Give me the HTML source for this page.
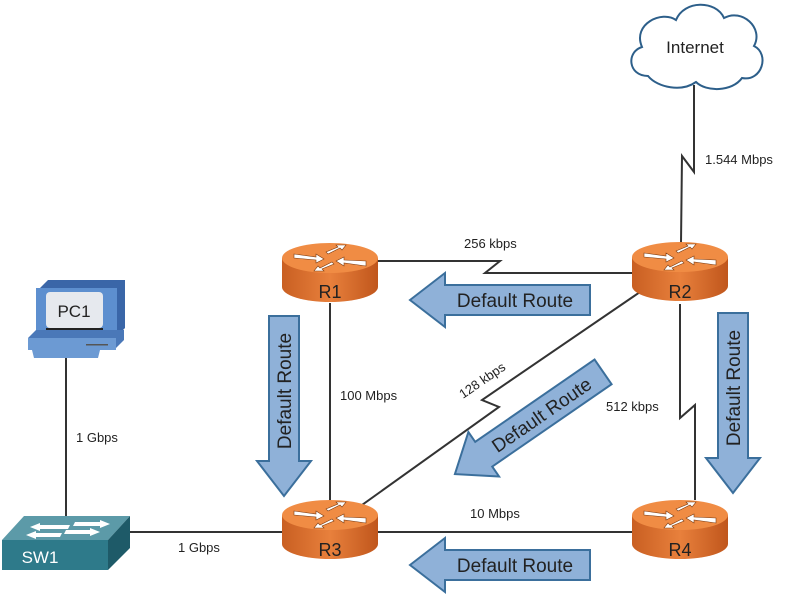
<!DOCTYPE html>
<html><head><style>
html,body{margin:0;padding:0;background:#fff;}
svg{display:block;font-family:"Liberation Sans",sans-serif;}
</style></head><body>
<svg width="791" height="602" viewBox="0 0 791 602">
<defs>
<linearGradient id="rb" x1="0" x2="1" y1="0" y2="0">
<stop offset="0" stop-color="#c95f22"/><stop offset="0.5" stop-color="#e8803c"/><stop offset="1" stop-color="#c0561c"/>
</linearGradient>
<g id="router">
<path d="M-48,0 L-48,29 A48,15 0 0 0 48,29 L48,0 Z" fill="url(#rb)"/>
<ellipse cx="0" cy="0" rx="48" ry="15" fill="#f08c44"/>
<g fill="#fff" stroke="#7a3a10" stroke-width="0.6">
<path d="M-36,-4 L-14,-1 L-14,-4 L-6,1 L-14,5 L-14,2 L-36,0 Z"/>
<path d="M36,4 L14,1 L14,4 L6,-1 L14,-5 L14,-2 L36,-1 Z" transform="translate(0,4)"/>
<path d="M-4,-6 L8,-11 L6,-13 L16,-13 L12,-8 L10,-10 L-2,-4 Z"/>
<path d="M4,6 L-8,11 L-6,13 L-16,13 L-12,8 L-10,10 L2,4 Z"/>
</g>
</g>
<g id="fat">
<path d="M-90,0 L-55,-27 L-55,-15 L90,-15 L90,15 L-55,15 L-55,27 Z" fill="#8fb1d8" stroke="#3b6f9c" stroke-width="2"/>
<text x="15" y="7" font-size="19" text-anchor="middle" fill="#222">Default Route</text>
</g>
</defs>

<g stroke="#333" stroke-width="2" fill="none">
<polyline points="694,85 694,172 682,156 681,243"/>
<polyline points="378,261 500,261 485,273 632,273"/>
<polyline points="680,304 680,418 695,405 695,500"/>
<polyline points="640,292 482,400 499,407 355,510"/>
<line x1="330" y1="303" x2="330" y2="505"/>
<line x1="378" y1="532" x2="632" y2="532"/>
<line x1="125" y1="532" x2="282" y2="532"/>
<line x1="66" y1="355" x2="66" y2="518"/>
</g>

<path d="M648,76 C628,76 626,52 642,47 C632,24 662,10 676,20 C684,0 716,0 724,18 C742,8 764,28 754,46 C770,54 762,82 742,78 C732,92 706,92 696,82 C682,92 658,88 648,76 Z" fill="#fff" stroke="#2d5f8a" stroke-width="2"/>
<text x="695" y="53" font-size="17" text-anchor="middle" fill="#222">Internet</text>

<use href="#router" x="330" y="258"/>
<use href="#router" x="680" y="257"/>
<use href="#router" x="330" y="515"/>
<use href="#router" x="680" y="515"/>
<g font-size="18" text-anchor="middle" fill="#222">
<text x="330" y="298">R1</text>
<text x="680" y="298">R2</text>
<text x="330" y="556">R3</text>
<text x="680" y="556">R4</text>
</g>

<path d="M40,288 L48,280 L125,280 L125,328 L117,336 Z" fill="#3a66a8"/>
<rect x="36" y="288" width="81" height="48" fill="#5d8fcf"/>
<rect x="46" y="292" width="57" height="36" rx="4" fill="#e6e9ee"/>
<text x="74" y="317" font-size="17" text-anchor="middle" fill="#222">PC1</text>
<rect x="46" y="328" width="57" height="3" fill="#222"/>
<path d="M28,338 L36,330 L124,330 L124,340 L116,348 Z" fill="#4a78b8"/>
<rect x="28" y="338" width="88" height="12" fill="#6c9ad3"/>
<rect x="86" y="344" width="22" height="1.5" fill="#555"/>
<path d="M32,350 L100,350 L98,358 L34,358 Z" fill="#6c9ad3"/>

<path d="M2,540 L24,516 L130,516 L108,540 Z" fill="#5c9aa8"/>
<path d="M108,540 L130,516 L130,548 L108,570 Z" fill="#1e5a68"/>
<rect x="2" y="540" width="106" height="30" fill="#2e7a8a"/>
<g fill="#fff">
<path d="M30,527 L40,523 L40,525 L70,525 L68,529 L40,529 L40,531 Z"/>
<path d="M110,524 L100,520 L100,522 L75,522 L73,526 L100,526 L100,528 Z"/>
<path d="M26,535 L36,531 L36,533 L62,533 L60,537 L36,537 L36,539 Z"/>
<path d="M100,532 L90,528 L90,530 L66,530 L64,534 L90,534 L90,536 Z"/>
</g>
<text x="40" y="563" font-size="17" text-anchor="middle" fill="#fff">SW1</text>

<g font-size="13" fill="#222">
<text x="705" y="164">1.544 Mbps</text>
<text x="464" y="248">256 kbps</text>
<text x="340" y="400">100 Mbps</text>
<text x="606" y="411">512 kbps</text>
<text x="470" y="518">10 Mbps</text>
<text x="178" y="552">1 Gbps</text>
<text x="76" y="442">1 Gbps</text>
<text x="0" y="0" transform="translate(463,399) rotate(-34.6)">128 kbps</text>
</g>

<use href="#fat" transform="translate(500,300)"/>
<use href="#fat" transform="translate(500,565)"/>
<use href="#fat" transform="translate(284,406) rotate(-90)"/>
<use href="#fat" transform="translate(733,403) rotate(-90)"/>
<use href="#fat" transform="translate(529,423) rotate(-34.6)"/>
</svg>
</body></html>
